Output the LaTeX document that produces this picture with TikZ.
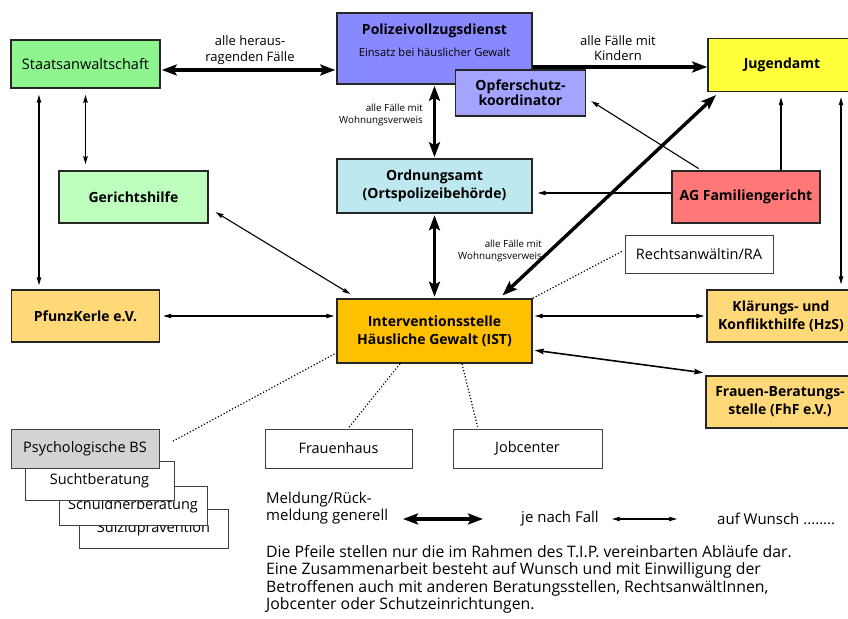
\documentclass[tikz,border=0pt]{standalone}
\usepackage{fontspec}
\setmainfont{Open Sans}
\usetikzlibrary{arrows.meta,calc}
\definecolor{cSta}{RGB}{143,245,143}
\definecolor{cPol}{RGB}{136,136,255}
\definecolor{cOpf}{RGB}{164,164,255}
\definecolor{cJug}{RGB}{255,255,60}
\definecolor{cGer}{RGB}{190,255,190}
\definecolor{cOrd}{RGB}{190,232,240}
\definecolor{cAG}{RGB}{255,120,120}
\definecolor{cOra}{RGB}{255,216,120}
\definecolor{cIST}{RGB}{255,192,0}
\definecolor{cPsy}{RGB}{211,211,211}
\newcommand{\fs}[2]{\fontsize{#1}{#2}\selectfont}
\begin{document}
\begin{tikzpicture}[x=1pt,y=-1pt,
  box/.style={draw=black!85, line width=1.6pt, inner sep=1pt, align=center, font=\fs{14.5}{18}},
  bbox/.style={box, font=\fs{14}{18}\bfseries},
  wbox/.style={draw=black!75, line width=0.8pt, fill=white, inner sep=1pt, align=center, font=\fs{14.5}{16}},
  lab/.style={inner sep=0pt, align=center, font=\fs{13}{15.5}},
  slab/.style={inner sep=0pt, align=right, font=\fs{9.8}{12.5}},
  bigarr/.style={line width=3.4pt, {Stealth[length=15pt,width=11pt,inset=3pt]}-{Stealth[length=15pt,width=11pt,inset=3pt]}},
  bigone/.style={line width=3.4pt, -{Stealth[length=15pt,width=11pt,inset=3pt]}},
  thinarr/.style={line width=1.1pt, {Stealth[length=8pt,width=4.5pt,inset=1pt]}-{Stealth[length=8pt,width=4.5pt,inset=1pt]}},
  thinone/.style={line width=1.1pt, -{Stealth[length=8pt,width=4.5pt,inset=1pt]}},
  midarr/.style={line width=1.6pt, {Stealth[length=9pt,width=5.5pt,inset=1pt]}-{Stealth[length=9pt,width=5.5pt,inset=1pt]}},
  dots/.style={line width=1.2pt, dash pattern=on 1.2pt off 2pt},
  txt/.style={inner sep=0pt, font=\fs{15}{17.5}, align=left}
]
\useasboundingbox (0,0) rectangle (848,618);
\fill[white] (0,0) rectangle (848,618);

% boxes
\node[box, fill=cSta, minimum width=149, minimum height=48] (sta) at (85.5,64) {Staatsanwaltschaft};
\node[box, fill=cPol, minimum width=195, minimum height=71] (pol) at (434.5,48.5) {};
\node[inner sep=0pt, font=\fs{14}{16}\bfseries] (poltitle) at (434.5,31) {Polizeivollzugsdienst};
\node[inner sep=0pt, font=\fs{11.2}{13}] (polsub) at (434.5,52) {Einsatz bei häuslicher Gewalt};
\node[bbox, fill=cOpf, minimum width=130, minimum height=46, font=\fs{14}{15}\bfseries] (opf) at (520.5,93) {Opferschutz-\\koordinator};
\node[bbox, fill=cJug, minimum width=148, minimum height=53] (jug) at (782,65) {Jugendamt};
\node[bbox, fill=cGer, minimum width=149, minimum height=52] (ger) at (133.5,197) {Gerichtshilfe};
\node[bbox, fill=cOrd, minimum width=195, minimum height=54] (ord) at (434.5,186) {Ordnungsamt\\(Ortspolizeibehörde)};
\node[bbox, fill=cAG, minimum width=148, minimum height=52] (ag) at (746,197) {AG Familiengericht};
\node[wbox, minimum width=148, minimum height=38] (ra) at (699,254) {Rechtsanwältin/RA};
\node[bbox, fill=cOra, minimum width=148, minimum height=52] (pfu) at (85.5,316) {PfunzKerle e.V.};
\node[bbox, fill=cIST, minimum width=195, minimum height=64] (ist) at (434.5,331) {Interventionsstelle\\Häusliche Gewalt (IST)};
\node[bbox, fill=cOra, minimum width=148, minimum height=52] (kla) at (781,316) {Klärungs- und\\Konflikthilfe (HzS)};
\node[bbox, fill=cOra, minimum width=148, minimum height=52] (fra) at (780,402) {Frauen-Beratungs-\\stelle (FhF e.V.)};
\node[wbox, minimum width=149, minimum height=39] (sui) at (153.5,528.5) {Suizidprävention};
\node[wbox, minimum width=148, minimum height=39] (sch) at (133,505.5) {Schuldnerberatung};
\node[wbox, minimum width=149, minimum height=39] (suc) at (99.5,480.5) {Suchtberatung};
\node[wbox, fill=cPsy, minimum width=148, minimum height=39] (psy) at (85,448.5) {Psychologische BS};
\node[wbox, minimum width=147, minimum height=39] (fh) at (338.5,448.5) {Frauenhaus};
\node[wbox, minimum width=149, minimum height=39] (job) at (527.5,448.5) {Jobcenter};

% thick connectors
\draw[bigarr, shorten <=1pt, shorten >=1pt] ([yshift=-6pt]sta.east) -- ([yshift=-6pt]sta.east -| pol.west);
\node[lab] (l1) at (250,50) {alle heraus-\\ragenden Fälle};
\draw[bigone] ([yshift=-18.5pt]pol.east) -- ([yshift=-18.5pt]pol.east -| jug.west);
\node[lab] (l2) at (618,48) {alle Fälle mit\\Kindern};
\draw[bigarr, shorten <=1pt, shorten >=1pt] (pol.south) -- (ord.north);
\node[slab, anchor=east] (l3) at (423,115) {alle Fälle mit\\Wohnungsverweis};
\draw[bigarr, shorten <=1.5pt, shorten >=1.5pt] (ord.south) -- (ist.north);
\node[slab, anchor=east] (l4) at (542,251) {alle Fälle mit\\Wohnungsverweis};
\draw[bigarr, shorten <=4pt, shorten >=4pt] ([xshift=65pt]ist.north) -- ([xshift=-63pt]jug.south);

% thin connectors
\draw[thinarr, shorten <=6pt, shorten >=6pt] (sta.south) -- (sta.south |- ger.north);
\draw[thinarr, shorten <=6pt, shorten >=4pt] ([xshift=-46.5pt]sta.south) -- ([xshift=-46.5pt]sta.south |- pfu.north);
\draw[thinarr, shorten <=8pt, shorten >=8pt] ([yshift=-11pt]ger.east) -- ([xshift=21pt]ist.north west);
\draw[thinarr, shorten <=3pt, shorten >=2pt] (pfu.east) -- (pfu.east -| ist.west);
\draw[thinarr, shorten <=2pt, shorten >=2pt] ([yshift=15pt]ist.east) -- ([yshift=15pt]ist.east -| kla.west);
\draw[midarr, shorten <=2pt, shorten >=2pt] ([yshift=-19pt]ist.east) -- ([yshift=29pt]fra.west);
\draw[thinarr, shorten <=5pt, shorten >=5pt] ([xshift=59pt]jug.south) -- ([xshift=59pt]jug.south |- kla.north);
\draw[thinone, shorten >=5pt] ([xshift=35pt]ag.north) -- ([xshift=35pt]ag.north |- jug.south);
\draw[thinone, shorten <=3pt, shorten >=6pt] ([xshift=30pt]ag.north west) -- ([yshift=-5pt]opf.east);
\draw[thinone, shorten >=5pt] ([yshift=4pt]ag.west) -- ([yshift=4pt]ag.west -| ord.east);

% dotted
\draw[dots, shorten >=2pt] (ist.north east) -- ([yshift=4pt]ra.west);
\draw[dots, shorten <=2pt, shorten >=15pt] ([yshift=-22pt]ist.west) -- (psy.east);
\draw[dots] ([xshift=-34.5pt]ist.south) -- ([xshift=9.5pt]fh.north);
\draw[dots] ([xshift=27.5pt]ist.south) -- ([xshift=-49.5pt]job.north);

% legend
\node[txt, anchor=west] (lg1) at (266,508) {Meldung/Rück-\\meldung generell};
\coordinate (a1) at (403,519);
\coordinate (a2) at (483,519);
\draw[bigarr] (a1) -- (a2);
\node[txt, anchor=west] (lg2) at (521,519) {je nach Fall};
\coordinate (b1) at (612,519);
\coordinate (b2) at (677,519);
\draw[thinarr] (b1) -- (b2);
\node[txt, anchor=west] (lg3) at (717,519) {auf Wunsch ........};

\node[txt, anchor=north west, font=\fs{15.8}{17.4}] (para) at (266,545) {Die Pfeile stellen nur die im Rahmen des T.I.P. vereinbarten Abläufe dar.\\
Eine Zusammenarbeit besteht auf Wunsch und mit Einwilligung der\\
Betroffenen auch mit anderen Beratungsstellen, RechtsanwältInnen,\\
Jobcenter oder Schutzeinrichtungen.};
\end{tikzpicture}
\end{document}
